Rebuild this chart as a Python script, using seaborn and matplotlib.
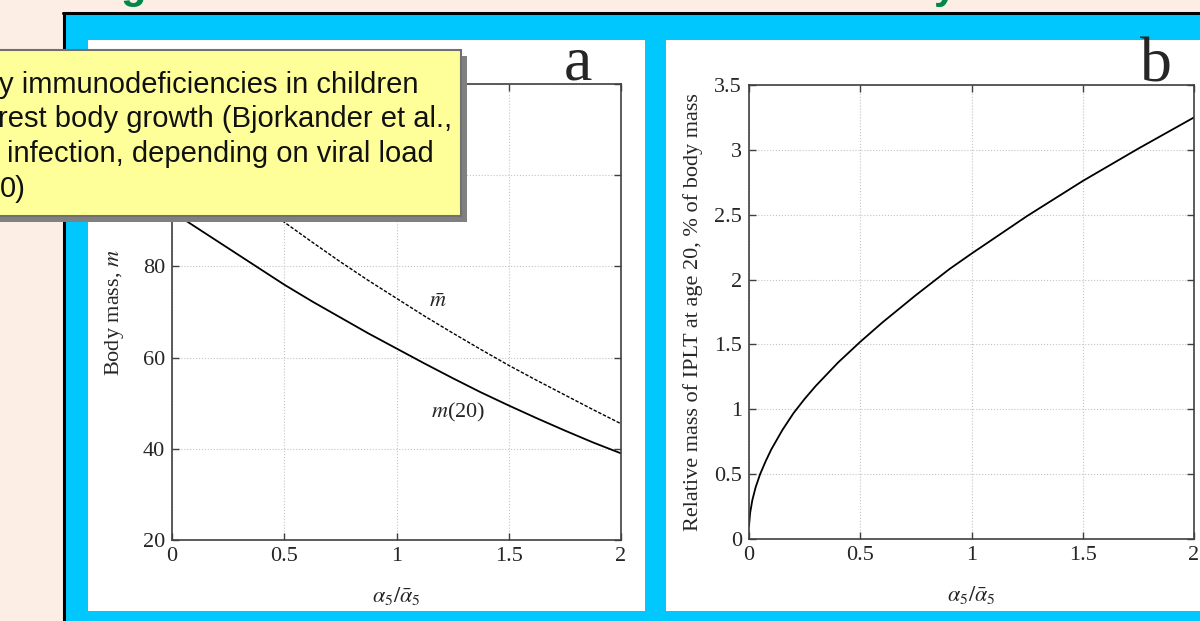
import matplotlib
matplotlib.use("Agg")
import matplotlib.pyplot as plt
import numpy as np
import pandas as pd
import seaborn as sns
from matplotlib.patches import Rectangle
from matplotlib.lines import Line2D

# panel a: body mass vs alpha5 / alpha5_bar
ratio_a = [0.0, 0.125, 0.25, 0.375, 0.5, 0.625, 0.75, 0.875, 1.0, 1.125, 1.25,
           1.375, 1.5, 1.625, 1.75, 1.875, 2.0]
mass_20 = [92.0, 88.0, 84.0, 80.0, 76.0, 72.3, 68.8, 65.3, 62.0, 58.7, 55.5,
           52.4, 49.5, 46.7, 44.0, 41.4, 39.0]
mass_bar = [108.5, 103.7, 99.0, 94.3, 89.7, 85.3, 81.0, 76.9, 73.0, 69.1, 65.4,
            61.8, 58.3, 55.0, 51.8, 48.6, 45.5]

# panel b: relative IPLT mass at age 20
ratio_b = [0.0, 0.005, 0.015, 0.03, 0.05, 0.075, 0.1, 0.15, 0.2, 0.25, 0.3, 0.4,
           0.5, 0.6, 0.75, 0.9, 1.0, 1.25, 1.5, 1.75, 2.0]
iplt_rel = [0.1, 0.2, 0.3, 0.4, 0.5, 0.6, 0.69, 0.84, 0.97, 1.08, 1.18, 1.36,
            1.52, 1.67, 1.88, 2.08, 2.2, 2.49, 2.76, 3.01, 3.25]

a_yticks = [20, 40, 60, 80, 100, 120]
b_yticks = [0, 0.5, 1, 1.5, 2, 2.5, 3, 3.5]
xticks = [0, 0.5, 1, 1.5, 2]

box_lines = [
    "y immunodeficiencies in children",
    "rest body growth (Bjorkander et al.,",
    "infection, depending on viral load",
    "0)",
]

W, H = 1200, 621
PEACH = "#FDEEE5"
CYAN = "#00C8FF"

sns.set_style("whitegrid", {
    "axes.edgecolor": "#404040",
    "grid.color": "#c4c4c4",
    "grid.linestyle": ":",
    "xtick.direction": "in",
    "ytick.direction": "in",
    "xtick.top": True,
    "ytick.right": True,
    "xtick.bottom": True,
    "ytick.left": True,
})
plt.rcParams["font.family"] = ["Liberation Serif", "DejaVu Serif"]
plt.rcParams["mathtext.fontset"] = "stix"


def box(x0, y0, x1, y1):
    # pixel box (top-left origin) -> figure fraction rect
    return [x0 / W, 1 - y1 / H, (x1 - x0) / W, (y1 - y0) / H]


def fx(x):
    return x / W


def fy(y):
    return 1 - y / H


fig = plt.figure(figsize=(12, 6.21), dpi=100, facecolor=PEACH)

# slide frame
for (x0, y0, x1, y1), c in [((65, 14, 1201, 622), CYAN),
                            ((88, 40, 645, 611), "white"),
                            ((666, 40, 1201, 611), "white")]:
    l, b, w, h = box(x0, y0, x1, y1)
    fig.add_artist(Rectangle((l, b), w, h, transform=fig.transFigure,
                             facecolor=c, edgecolor="none", zorder=-5))
fig.add_artist(Line2D([fx(63), fx(1201)], [fy(13), fy(13)], transform=fig.transFigure,
                      color="black", lw=2.2, zorder=-4))
fig.add_artist(Line2D([fx(64), fx(64)], [fy(13), fy(622)], transform=fig.transFigure,
                      color="black", lw=2.2, zorder=-4))

# cut-off green title descenders
for ch, x in [("g", 120), ("y", 934)]:
    fig.text(fx(x), fy(-2), ch, color="#00884A", fontsize=30, fontweight="bold",
             family="Liberation Sans", va="baseline", ha="left")

ax_a = fig.add_axes(box(172, 84, 621, 540))
ax_b = fig.add_axes(box(749, 85, 1194, 539))

df_a = pd.DataFrame({"ratio": ratio_a, "m20": mass_20, "mbar": mass_bar})
sns.lineplot(data=df_a, x="ratio", y="m20", ax=ax_a, color="black", lw=1.3)
sns.lineplot(data=df_a, x="ratio", y="mbar", ax=ax_a, color="black", lw=1.0,
             linestyle=(0, (2.5, 1.2)))
ax_a.text(1.185, 72.1, r"$\bar{m}$", fontsize=16, ha="center", va="center")
ax_a.text(1.274, 47.9, r"$m$(20)", fontsize=16, ha="center", va="center")
ax_a.set_ylim(20, 120)
ax_a.set_yticks(a_yticks)
ax_a.set_ylabel(r"Body mass, $m$", fontsize=16, labelpad=4)

df_b = pd.DataFrame({"ratio": ratio_b, "rel": iplt_rel})
sns.lineplot(data=df_b, x="ratio", y="rel", ax=ax_b, color="black", lw=1.3)
ax_b.set_ylim(0, 3.5)
ax_b.set_yticks(b_yticks)
ax_b.set_yticklabels([f"{v:g}" for v in b_yticks])
ax_b.set_ylabel("Relative mass of IPLT at age 20, % of body mass", fontsize=16, labelpad=8)

for ax in (ax_a, ax_b):
    ax.set_xlim(0, 2)
    ax.set_xticks(xticks)
    ax.set_xticklabels([f"{v:g}" for v in xticks])
    ax.set_xlabel(r"$\alpha_5/\bar{\alpha}_5$", fontsize=16, labelpad=14)
    ax.tick_params(labelsize=16, length=5, width=1, color="#404040", pad=5)
    ax.grid(True, lw=0.8)
    for s in ax.spines.values():
        s.set_linewidth(1.2)
    ax.set_facecolor("white")

fig.text(fx(578), fy(80), "a", fontsize=46, ha="center", va="baseline")
fig.text(fx(1156), fy(81), "b", fontsize=46, ha="center", va="baseline")

# yellow call-out box over panel a
l, b, w, h = box(-10, 56, 467, 222)
fig.add_artist(Rectangle((l, b), w, h, transform=fig.transFigure,
                         facecolor="#808080", edgecolor="none", zorder=5))
l, b, w, h = box(-10, 50, 461, 216)
fig.add_artist(Rectangle((l, b), w, h, transform=fig.transFigure,
                         facecolor="#FFFF99", edgecolor="#707070", lw=1.5, zorder=6))
for line, x, y in zip(box_lines, [-1, -2, 7, 0], [93, 127, 162, 197]):
    fig.text(fx(x), fy(y), line, fontsize=21, family="Liberation Sans",
             color="#111111", ha="left", va="baseline", zorder=7)

fig.savefig("out.png", dpi=100, facecolor=PEACH)
